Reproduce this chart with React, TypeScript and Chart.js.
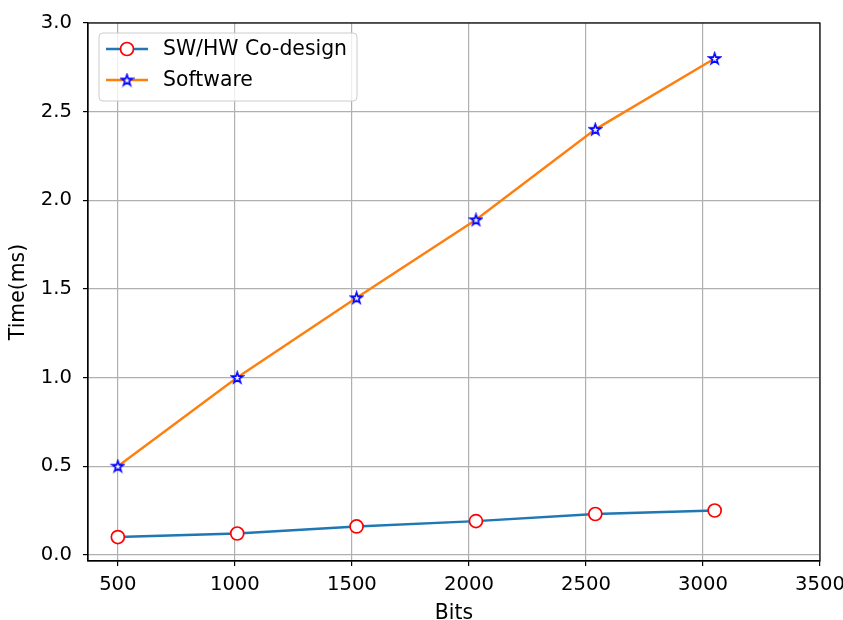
import React, { useEffect, useRef } from "react";
import { Chart, registerables } from "chart.js";
Chart.register(...registerables);

const bits = [500, 1010, 1520, 2030, 2540, 3050];
const codesign = [0.1, 0.12, 0.16, 0.19, 0.23, 0.25];
const software = [0.5, 1.0, 1.45, 1.89, 2.4, 2.8];
const xTicks = [500, 1000, 1500, 2000, 2500, 3000, 3500];
const yTicks = [0, 0.5, 1.0, 1.5, 2.0, 2.5, 3.0];
const seriesLabels = ["SW/HW Co-design", "Software"];
const xTitle = "Bits";
const yTitle = "Time(ms)";

const FONT = "'DejaVu Sans', sans-serif";
const TICK_SIZE = 19.6;
const LABEL_SIZE = 20.4;

function makeStar(): HTMLCanvasElement {
  const c = document.createElement("canvas");
  c.width = 15;
  c.height = 15;
  const ctx = c.getContext("2d")!;
  const cx = 7.5, cy = 7.9, R = 5.8, r = R * 0.382;
  ctx.beginPath();
  for (let i = 0; i < 10; i++) {
    const ang = -Math.PI / 2 + (i * Math.PI) / 5;
    const rad = i % 2 === 0 ? R : r;
    const px = cx + rad * Math.cos(ang);
    const py = cy + rad * Math.sin(ang);
    if (i === 0) ctx.moveTo(px, py);
    else ctx.lineTo(px, py);
  }
  ctx.closePath();
  ctx.fillStyle = "#ffffff";
  ctx.fill();
  ctx.strokeStyle = "#0000ff";
  ctx.lineWidth = 1.6;
  ctx.lineJoin = "miter";
  ctx.stroke();
  return c;
}

const framePlugin = {
  id: "frame",
  afterDatasetsDraw(chart: any) {
    const { ctx, chartArea: a } = chart;
    ctx.save();
    ctx.strokeStyle = "#000000";
    ctx.lineWidth = 1.2;
    ctx.strokeRect(a.left, a.top, a.right - a.left, a.bottom - a.top);
    ctx.restore();
  },
};

const legendPlugin = {
  id: "mplLegend",
  afterDraw(chart: any) {
    const { ctx, chartArea: a } = chart;
    const x = a.left + 11, y = a.top + 10, w = 258, h = 68, rad = 4;
    ctx.save();
    ctx.beginPath();
    ctx.moveTo(x + rad, y);
    ctx.lineTo(x + w - rad, y);
    ctx.arcTo(x + w, y, x + w, y + rad, rad);
    ctx.lineTo(x + w, y + h - rad);
    ctx.arcTo(x + w, y + h, x + w - rad, y + h, rad);
    ctx.lineTo(x + rad, y + h);
    ctx.arcTo(x, y + h, x, y + h - rad, rad);
    ctx.lineTo(x, y + rad);
    ctx.arcTo(x, y, x + rad, y, rad);
    ctx.closePath();
    ctx.fillStyle = "rgba(255,255,255,0.8)";
    ctx.fill();
    ctx.strokeStyle = "#cccccc";
    ctx.lineWidth = 1;
    ctx.stroke();

    chart.data.datasets.forEach((ds: any, i: number) => {
      const ry = y + 16 + i * 31;
      const lx0 = x + 7, lx1 = x + 49, mx = (lx0 + lx1) / 2;
      ctx.beginPath();
      ctx.moveTo(lx0, ry);
      ctx.lineTo(lx1, ry);
      ctx.strokeStyle = ds.borderColor;
      ctx.lineWidth = ds.borderWidth;
      ctx.stroke();
      if (ds.pointStyle === "circle") {
        ctx.beginPath();
        ctx.arc(mx, ry, ds.pointRadius, 0, Math.PI * 2);
        ctx.fillStyle = ds.pointBackgroundColor;
        ctx.fill();
        ctx.strokeStyle = ds.pointBorderColor;
        ctx.lineWidth = ds.pointBorderWidth;
        ctx.stroke();
      } else if (ds.pointStyle instanceof HTMLCanvasElement) {
        const img = ds.pointStyle;
        ctx.drawImage(img, mx - img.width / 2, ry - img.height / 2);
      }
      ctx.fillStyle = "#000000";
      ctx.font = `${LABEL_SIZE}px ${FONT}`;
      ctx.textBaseline = "middle";
      ctx.textAlign = "left";
      ctx.fillText(ds.label, x + 64, ry + 1);
    });
    ctx.restore();
  },
};

export default function App() {
  const ref = useRef<HTMLCanvasElement | null>(null);
  useEffect(() => {
    document.body.style.margin = "0";
    const star = makeStar();
    const chart = new Chart(ref.current!, {
      type: "line",
      data: {
        datasets: [
          {
            label: seriesLabels[0],
            data: bits.map((b, i) => ({ x: b, y: codesign[i] })),
            borderColor: "#1f77b4",
            borderWidth: 2.4,
            pointStyle: "circle",
            pointRadius: 6.5,
            pointBackgroundColor: "#ffffff",
            pointBorderColor: "#ff0000",
            pointBorderWidth: 1.7,
            tension: 0,
          },
          {
            label: seriesLabels[1],
            data: bits.map((b, i) => ({ x: b, y: software[i] })),
            borderColor: "#ff7f0e",
            borderWidth: 2.4,
            pointStyle: star as any,
            pointRadius: 6,
            tension: 0,
          },
        ],
      },
      options: {
        responsive: false,
        animation: false,
        events: [],
        layout: { padding: { left: 0, right: 23, top: 23, bottom: 0 } },
        plugins: { legend: { display: false }, tooltip: { enabled: false } },
        scales: {
          x: {
            type: "linear",
            min: 372.5,
            max: 3500,
            afterBuildTicks: (s: any) => {
              s.ticks = xTicks.map((v) => ({ value: v }));
            },
            afterFit: (s: any) => {
              s.height = 59;
              s.paddingLeft = 0;
              s.paddingRight = 0;
            },
            grid: {
              color: "#b0b0b0",
              lineWidth: 1.2,
              drawTicks: true,
              tickLength: 5,
              tickColor: "#000000",
              tickWidth: 1.2,
            },
            border: { display: true, color: "#000000", width: 1.2 },
            ticks: {
              color: "#000000",
              font: { family: FONT, size: TICK_SIZE },
              padding: 7,
              maxRotation: 0,
              autoSkip: false,
              callback: (v: any) => String(v),
            },
            title: {
              display: true,
              text: xTitle,
              color: "#000000",
              font: { family: FONT, size: LABEL_SIZE, lineHeight: 0.65 },
              padding: { top: 0, bottom: 0 },
            },
          },
          y: {
            type: "linear",
            min: -0.035,
            max: 3.0,
            afterBuildTicks: (s: any) => {
              s.ticks = yTicks.map((v) => ({ value: v }));
            },
            afterFit: (s: any) => {
              s.width = 88;
              s.paddingTop = 0;
              s.paddingBottom = 0;
            },
            grid: {
              color: "#b0b0b0",
              lineWidth: 1.2,
              drawTicks: true,
              tickLength: 5,
              tickColor: "#000000",
              tickWidth: 1.2,
            },
            border: { display: true, color: "#000000", width: 1.2 },
            ticks: {
              color: "#000000",
              font: { family: FONT, size: TICK_SIZE },
              padding: 11,
              autoSkip: false,
              callback: (v: any) => Number(v).toFixed(1),
            },
            title: {
              display: true,
              text: yTitle,
              color: "#000000",
              font: { family: FONT, size: LABEL_SIZE, lineHeight: 1 },
              padding: { top: 9, bottom: 0 },
            },
          },
        },
      },
      plugins: [framePlugin, legendPlugin],
    });
    return () => chart.destroy();
  }, []);
  return (
    <div style={{ position: "absolute", left: 0, top: 0, width: 843, height: 620 }}>
      <canvas ref={ref} width={843} height={620} />
    </div>
  );
}
